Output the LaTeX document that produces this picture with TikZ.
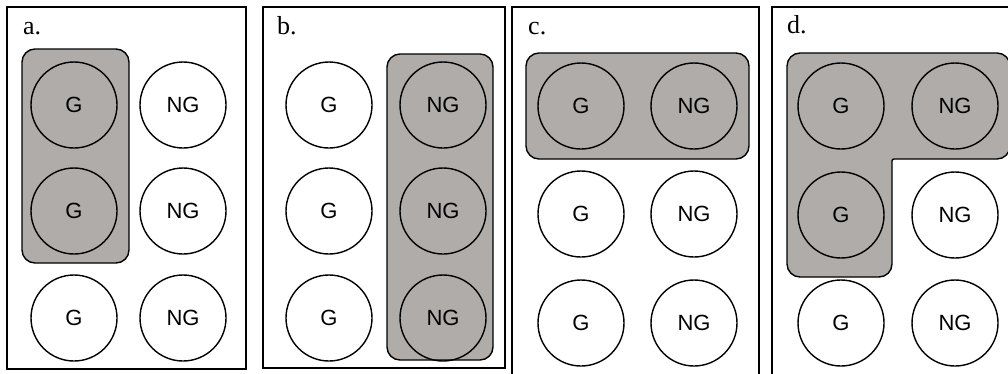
\documentclass[tikz,border=0pt]{standalone}
\usepackage{fontspec}
\setmainfont{Liberation Serif}
\newfontfamily\circfont{Liberation Sans}
\definecolor{groupgrey}{RGB}{176,172,170}
\tikzset{
  frame/.style={draw=black,line width=2pt},
  grp/.style={draw=black,fill=groupgrey,line width=1.4pt,rounded corners=13pt},
  unit/.style={circle,draw=black,line width=1.4pt,minimum size=86pt,inner sep=0pt,font=\circfont\fontsize{22}{26}\selectfont},
  panellabel/.style={anchor=base west,inner sep=0pt,font=\fontsize{26}{30}\selectfont}
}
\begin{document}
\begin{tikzpicture}[x=1pt,y=-1pt]
\useasboundingbox (0,0) rectangle (1008,373);
\clip (0,0) rectangle (1008,373);
\fill[white] (0,0) rectangle (1008,373);
% frames
\draw[frame] (7,7) rectangle (246,369);
\draw[frame] (263,7) rectangle (505,368);
\draw[frame] (512,7) rectangle (759,390);
\draw[frame] (772,7) rectangle (1030,390);
% labels
\node[panellabel] (la) at (23,34) {a.};
\node[panellabel] (lb) at (277,34) {b.};
\node[panellabel] (lc) at (528,34) {c.};
\node[panellabel] (ld) at (787,33) {d.};
% grey groups
\draw[grp] (22,49) rectangle (129,263);
\draw[grp] (387,54) rectangle (493,360);
\draw[grp] (526,53) rectangle (749,159);
\draw[grp] (787,53) -- (1010,53) -- (1010,159) [rounded corners=2pt] -- (892,159) [rounded corners=13pt] -- (892,277) -- (787,277) -- cycle;
% panel a
\node[unit] (a11) at (74,105) {G};
\node[unit] (a12) at (183,105) {NG};
\node[unit] (a21) at (74,211) {G};
\node[unit] (a22) at (183,211) {NG};
\node[unit] (a31) at (74,318) {G};
\node[unit] (a32) at (183,318) {NG};
% panel b
\node[unit] (b11) at (329,105) {G};
\node[unit] (b12) at (443,105) {NG};
\node[unit] (b21) at (329,211) {G};
\node[unit] (b22) at (443,211) {NG};
\node[unit] (b31) at (329,318) {G};
\node[unit] (b32) at (443,318) {NG};
% panel c
\node[unit] (c11) at (581,106) {G};
\node[unit] (c12) at (694,106) {NG};
\node[unit] (c21) at (581,214) {G};
\node[unit] (c22) at (694,214) {NG};
\node[unit] (c31) at (581,323) {G};
\node[unit] (c32) at (694,323) {NG};
% panel d
\node[unit] (d11) at (841,106) {G};
\node[unit] (d12) at (955,106) {NG};
\node[unit] (d21) at (841,215) {G};
\node[unit] (d22) at (955,215) {NG};
\node[unit] (d31) at (841,323) {G};
\node[unit] (d32) at (955,323) {NG};
\end{tikzpicture}
\end{document}
